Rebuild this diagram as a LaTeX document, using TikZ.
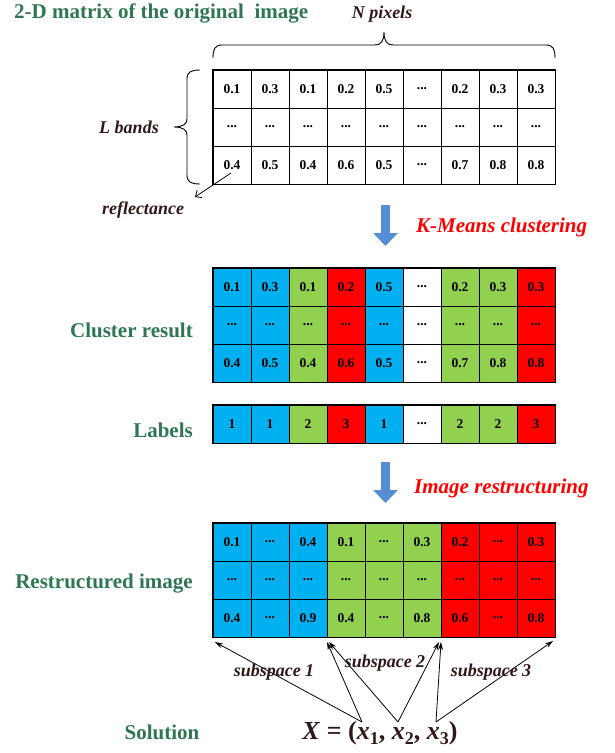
\documentclass[tikz,border=0pt]{standalone}
\usepackage{fontspec}
\setmainfont{Liberation Serif}
\usetikzlibrary{arrows.meta}
\definecolor{cblue}{RGB}{0,176,240}
\definecolor{cgreen}{RGB}{146,208,80}
\definecolor{cred}{RGB}{255,0,0}
\definecolor{ttlgreen}{RGB}{47,118,84}
\definecolor{darktxt}{RGB}{48,24,24}
\definecolor{arrblue}{RGB}{85,142,213}
\newcommand{\mydots}{...}
\newcommand{\mysub}[1]{\raisebox{-5pt}{\fontsize{18}{18}\selectfont\upshape #1}}
\begin{document}
\begin{tikzpicture}[x=1pt,y=-1pt,
  cell/.style={draw=black,line width=0.7pt,minimum width=38pt,minimum height=38pt,inner sep=0pt,font=\fontsize{13.5}{13.5}\selectfont\bfseries},
  outer/.style={draw=black,line width=1.2pt},
  ttl/.style={text=ttlgreen,font=\fontsize{21}{21}\selectfont\bfseries,inner sep=0pt},
  itl/.style={text=darktxt,font=\fontsize{18}{18}\selectfont\bfseries\itshape,inner sep=0pt},
  redl/.style={text=cred,font=\fontsize{21}{21}\selectfont\bfseries\itshape,inner sep=0pt,anchor=west},
  bigarrow/.style={draw=arrblue,line width=9pt,-{Triangle[width=24pt,length=13pt]}},
  thinarrow/.style={draw=black,line width=0.8pt,-{Stealth[length=8pt,width=5pt]}},
  barbarrow/.style={draw=black,line width=0.8pt,-{Straight Barb[length=5pt,width=9pt]}},
  bracestyle/.style={draw=black,line width=0.9pt}
]
\useasboundingbox (0,0) rectangle (615,753);

% ---------- titles ----------
\node[ttl,anchor=west] (title) at (14,13) {2-D matrix of the original \ image};
\node[itl] (npix) at (382,14) {N pixels};
\node[itl] (lbands) at (129,127) {L bands};
\node[itl] (refl) at (143,210) {reflectance};

% ---------- matrix 1 ----------
\foreach \v [count=\c] in {0.1,0.3,0.1,0.2,0.5,\mydots,0.2,0.3,0.3}
  \node[cell] (a1\c) at ({194+38*\c},89) {\v};
\foreach \c in {1,...,9}
  \node[cell] (a2\c) at ({194+38*\c},127) {\mydots};
\foreach \v [count=\c] in {0.4,0.5,0.4,0.6,0.5,\mydots,0.7,0.8,0.8}
  \node[cell] (a3\c) at ({194+38*\c},165) {\v};
\draw[outer] (a11.north west) rectangle (a39.south east);

% braces
\draw[bracestyle] (213,58) .. controls (213,49) and (215,45) .. (222,45)
  -- (375,45) .. controls (381,45) and (384,41) .. (384,32)
  .. controls (384,41) and (387,45) .. (393,45)
  -- (546,45) .. controls (553,45) and (555,49) .. (555,58);
\draw[bracestyle] (200,70) .. controls (191,70) and (187,72) .. (187,79)
  -- (187,119) .. controls (187,124) and (183,127) .. (174,127)
  .. controls (183,127) and (187,130) .. (187,135)
  -- (187,175) .. controls (187,182) and (191,184) .. (200,184);

% reflectance arrow
\coordinate (rs) at (231,173);
\coordinate (re) at (195,197);
\draw[barbarrow] (rs) -- (re);

% ---------- K-means ----------
\coordinate (k1s) at (385.5,205);
\coordinate (k1e) at (385.5,246);
\draw[bigarrow] (k1s) -- (k1e);
\node[redl] (kmeans) at (416,227) {K-Means clustering};

% ---------- cluster result ----------
\node[ttl,anchor=east] (clres) at (193,330) {Cluster result};
\foreach \v/\col [count=\c] in {0.1/cblue,0.3/cblue,0.1/cgreen,0.2/cred,0.5/cblue,\mydots/white,0.2/cgreen,0.3/cgreen,0.3/cred}
  \node[cell,fill=\col] (b1\c) at ({194+38*\c},287) {\v};
\foreach \col [count=\c] in {cblue,cblue,cgreen,cred,cblue,white,cgreen,cgreen,cred}
  \node[cell,fill=\col] (b2\c) at ({194+38*\c},325) {\mydots};
\foreach \v/\col [count=\c] in {0.4/cblue,0.5/cblue,0.4/cgreen,0.6/cred,0.5/cblue,\mydots/white,0.7/cgreen,0.8/cgreen,0.8/cred}
  \node[cell,fill=\col] (b3\c) at ({194+38*\c},363) {\v};
\draw[outer] (b11.north west) rectangle (b39.south east);

% ---------- labels ----------
\node[ttl,anchor=east] (labtxt) at (193,430) {Labels};
\foreach \v/\col [count=\c] in {1/cblue,1/cblue,2/cgreen,3/cred,1/cblue,\mydots/white,2/cgreen,2/cgreen,3/cred}
  \node[cell,fill=\col] (l\c) at ({194+38*\c},424) {\v};
\draw[outer] (l1.north west) rectangle (l9.south east);

% ---------- restructuring ----------
\coordinate (k2s) at (385.5,462);
\coordinate (k2e) at (385.5,503);
\draw[bigarrow] (k2s) -- (k2e);
\node[redl] (restr) at (414,488) {Image restructuring};

\node[ttl,anchor=east] (rimg) at (193,584) {Restructured image};
\foreach \v/\col [count=\c] in {0.1/cblue,\mydots/cblue,0.4/cblue,0.1/cgreen,\mydots/cgreen,0.3/cgreen,0.2/cred,\mydots/cred,0.3/cred}
  \node[cell,fill=\col] (c1\c) at ({194+38*\c},542) {\v};
\foreach \col [count=\c] in {cblue,cblue,cblue,cgreen,cgreen,cgreen,cred,cred,cred}
  \node[cell,fill=\col] (c2\c) at ({194+38*\c},580) {\mydots};
\foreach \v/\col [count=\c] in {0.4/cblue,\mydots/cblue,0.9/cblue,0.4/cgreen,\mydots/cgreen,0.8/cgreen,0.6/cred,\mydots/cred,0.8/cred}
  \node[cell,fill=\col] (c3\c) at ({194+38*\c},618) {\v};
\draw[outer] (c11.north west) rectangle (c39.south east);

% ---------- solution ----------
\node[ttl] (sol) at (162,732) {Solution};
\node[text=darktxt,font=\fontsize{26}{26}\selectfont\bfseries,inner sep=0pt] (xsol) at (380,733)
  {\itshape X\/ \upshape= (\itshape x\mysub{1}\upshape, \itshape x\mysub{2}\upshape, \itshape x\mysub{3}\upshape)};

\coordinate (s1) at (362,722);
\coordinate (s2) at (398,722);
\coordinate (s3) at (436,722);
\coordinate (t1) at (215,642);
\coordinate (t2) at (327,642);
\coordinate (t3) at (329,642);
\coordinate (t4) at (439,642);
\coordinate (t5) at (441,642);
\coordinate (t6) at (553,641);
\draw[thinarrow] (s1) -- (t1);
\draw[thinarrow] (s1) -- (t2);
\draw[thinarrow] (s2) -- (t3);
\draw[thinarrow] (s2) -- (t4);
\draw[thinarrow] (s3) -- (t5);
\draw[thinarrow] (s3) -- (t6);

\node[itl] (sub1) at (274,672) {subspace 1};
\node[itl] (sub2) at (385,663) {subspace 2};
\node[itl] (sub3) at (491,672) {subspace 3};
\end{tikzpicture}
\end{document}
